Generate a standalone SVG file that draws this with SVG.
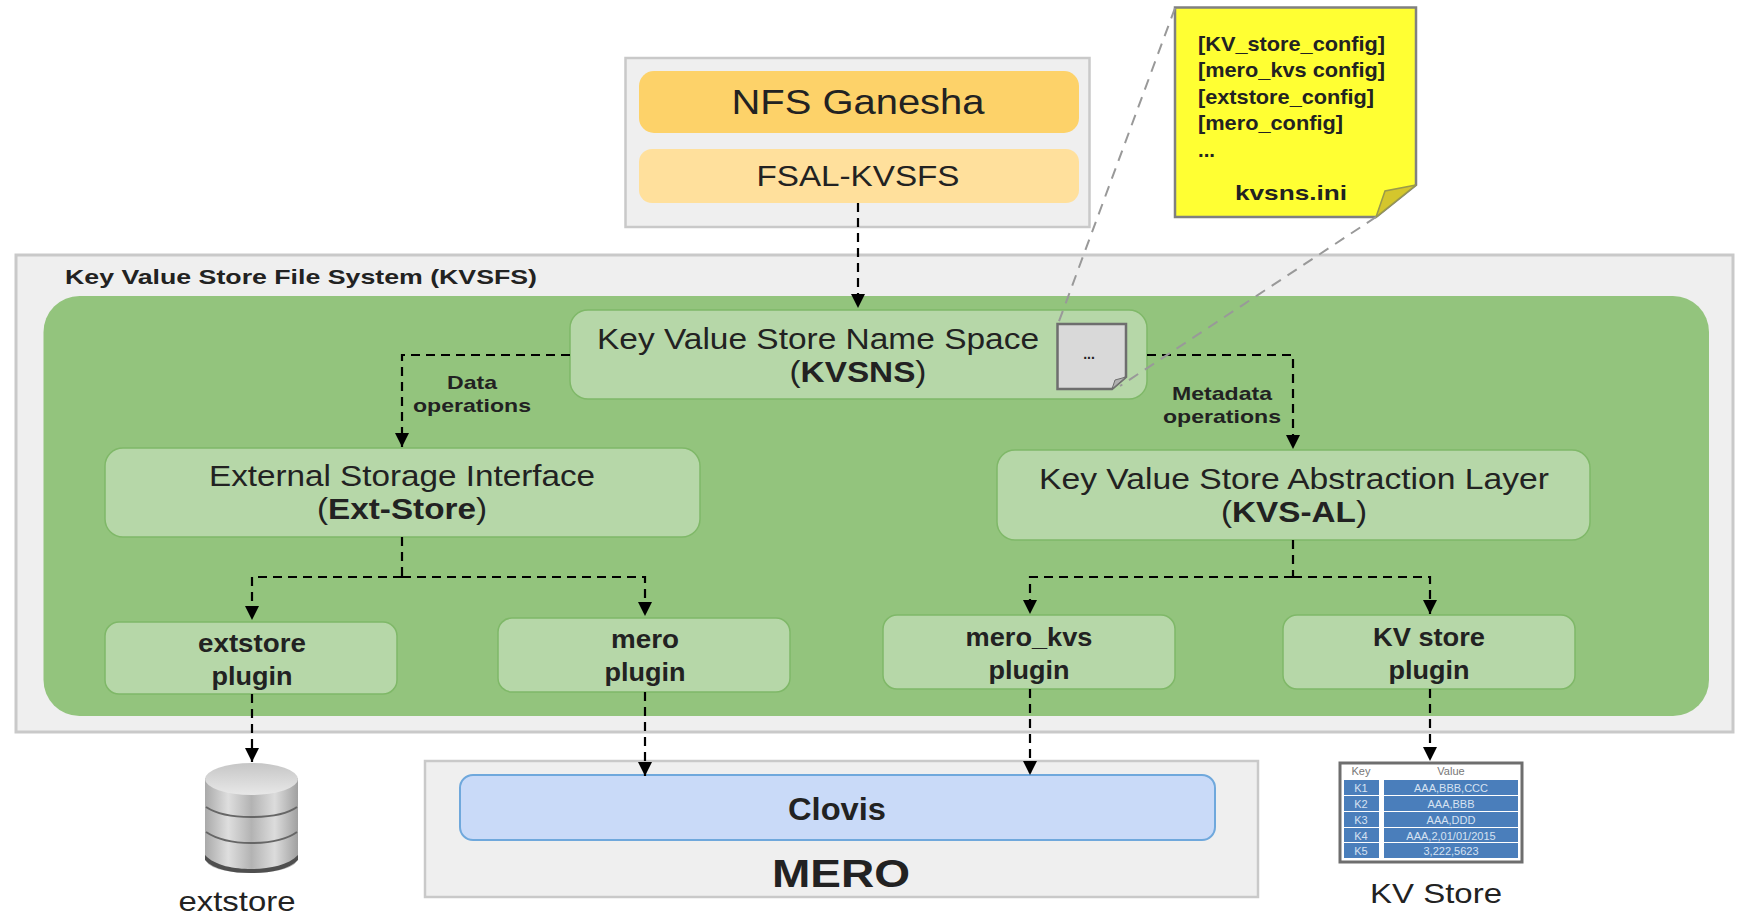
<svg xmlns="http://www.w3.org/2000/svg" width="1746" height="924" viewBox="0 0 1746 924">
<style>
text{font-family:"Liberation Sans",Arial,sans-serif;fill:#222;text-anchor:middle}
.b{font-weight:bold}
.box{fill:#b6d7a8;stroke:#7fb868;stroke-width:1.5}
.outer{fill:#efefef;stroke:#c9c9c9;stroke-width:2.500}
.m{font-size:29px}
.lab{font-size:19px;font-weight:bold}
.note{font-size:21px;font-weight:bold;text-anchor:start}
.c{fill:none;stroke:#000;stroke-width:2.2;stroke-dasharray:9 6}
.g{fill:none;stroke:#999;stroke-width:2;stroke-dasharray:11 8}
.cell{fill:#4a7ebb}
.t{font-size:11px;fill:#d6e2f2}
</style>
<defs>
<marker id="a" markerUnits="userSpaceOnUse" markerWidth="14" markerHeight="14" refX="13" refY="6.500" orient="auto" viewBox="0 0 13 13"><path d="M0 0L13 6.500L0 13Z" fill="#000"/></marker>
<linearGradient id="cy" x1="0" x2="1" y1="0" y2="0"><stop offset="0" stop-color="#a9a9a9"/><stop offset=".25" stop-color="#dedede"/><stop offset=".5" stop-color="#b3b3b3"/><stop offset=".75" stop-color="#dcdcdc"/><stop offset="1" stop-color="#a0a0a0"/></linearGradient>
<linearGradient id="ct" x1="0" x2="0" y1="0" y2="1"><stop offset="0" stop-color="#c6c6c6"/><stop offset="1" stop-color="#e8e8e8"/></linearGradient>
</defs>

<g id="ganesha-container"><rect class="outer" x="625.500" y="58" width="464" height="169"/></g>
<g id="nfs-ganesha"><rect x="639" y="71" width="440" height="62" rx="15" fill="#fdd269"/><text x="858" y="114" font-size="35" textLength="253" lengthAdjust="spacingAndGlyphs">NFS Ganesha</text></g>
<g id="fsal-kvsfs"><rect x="639" y="149" width="440" height="54" rx="13" fill="#ffe09c"/><text x="858" y="186" class="m" textLength="203" lengthAdjust="spacingAndGlyphs">FSAL-KVSFS</text></g>

<g id="kvsfs"><rect class="outer" x="16" y="255" width="1717" height="477" style="stroke-width:3"/><text x="301" y="284" font-size="21" class="b" textLength="472" lengthAdjust="spacingAndGlyphs">Key Value Store File System (KVSFS)</text></g>
<g id="kvsfs-inner"><rect x="43.500" y="296" width="1665.500" height="420" rx="36" fill="#93c47d"/></g>

<g id="kvsns"><rect class="box" x="570" y="310" width="577" height="89" rx="18"/><text x="818" y="349" class="m" textLength="442" lengthAdjust="spacingAndGlyphs">Key Value Store Name Space</text><text x="858" y="382" class="m" textLength="137" lengthAdjust="spacingAndGlyphs">(<tspan class="b">KVSNS</tspan>)</text></g>
<g id="ext-store"><rect class="box" x="105" y="448" width="595" height="89" rx="18"/><text x="402" y="486" class="m" textLength="386" lengthAdjust="spacingAndGlyphs">External Storage Interface</text><text x="402" y="519" class="m" textLength="170" lengthAdjust="spacingAndGlyphs">(<tspan class="b">Ext-Store</tspan>)</text></g>
<g id="kvs-al"><rect class="box" x="997" y="450" width="593" height="90" rx="18"/><text x="1294" y="489" class="m" textLength="510" lengthAdjust="spacingAndGlyphs">Key Value Store Abstraction Layer</text><text x="1294" y="522" class="m" textLength="146" lengthAdjust="spacingAndGlyphs">(<tspan class="b">KVS-AL</tspan>)</text></g>

<g id="extstore-plugin"><rect class="box" x="105" y="622" width="292" height="72" rx="14"/><text x="252" y="652" font-size="26" class="b" textLength="108" lengthAdjust="spacingAndGlyphs">extstore</text><text x="252" y="685" font-size="26" class="b" textLength="81" lengthAdjust="spacingAndGlyphs">plugin</text></g>
<g id="mero-plugin"><rect class="box" x="498" y="618" width="292" height="74" rx="14"/><text x="645" y="648" font-size="26" class="b" textLength="68" lengthAdjust="spacingAndGlyphs">mero</text><text x="645" y="681" font-size="26" class="b" textLength="81" lengthAdjust="spacingAndGlyphs">plugin</text></g>
<g id="mero-kvs-plugin"><rect class="box" x="883" y="615" width="292" height="74" rx="14"/><text x="1029" y="646" font-size="26" class="b" textLength="127" lengthAdjust="spacingAndGlyphs">mero_kvs</text><text x="1029" y="679" font-size="26" class="b" textLength="81" lengthAdjust="spacingAndGlyphs">plugin</text></g>
<g id="kv-store-plugin"><rect class="box" x="1283" y="615" width="292" height="74" rx="14"/><text x="1429" y="646" font-size="26" class="b" textLength="112" lengthAdjust="spacingAndGlyphs">KV store</text><text x="1429" y="679" font-size="26" class="b" textLength="81" lengthAdjust="spacingAndGlyphs">plugin</text></g>

<text x="472" y="389" class="lab" textLength="50" lengthAdjust="spacingAndGlyphs">Data</text>
<text x="472" y="412" class="lab" textLength="118" lengthAdjust="spacingAndGlyphs">operations</text>
<text x="1222" y="400" class="lab" textLength="100" lengthAdjust="spacingAndGlyphs">Metadata</text>
<text x="1222" y="423" class="lab" textLength="118" lengthAdjust="spacingAndGlyphs">operations</text>

<g id="small-doc"><path d="M1057.500 324H1126V377L1112 389H1057.500Z" fill="#d9d9d9" stroke="#6e6e6e" stroke-width="2.500"/><path d="M1112 389L1115 380L1126 377Z" fill="#b0b0b0" stroke="#6e6e6e"/><text x="1089" y="359" font-size="14" class="b">...</text></g>

<g id="note"><path d="M1175 7.500H1416V185L1376 217H1175Z" fill="#ffff33" stroke="#808080" stroke-width="2.500"/><path d="M1376 217L1385 191L1416 185Z" fill="#d4c62c" stroke="#9a9a4a" stroke-width="1.500"/>
<text class="note" x="1198" y="51" textLength="187" lengthAdjust="spacingAndGlyphs">[KV_store_config]</text>
<text class="note" x="1198" y="77" textLength="187" lengthAdjust="spacingAndGlyphs">[mero_kvs config]</text>
<text class="note" x="1198" y="104" textLength="176" lengthAdjust="spacingAndGlyphs">[extstore_config]</text>
<text class="note" x="1198" y="130" textLength="145" lengthAdjust="spacingAndGlyphs">[mero_config]</text>
<text class="note" x="1198" y="157" textLength="17" lengthAdjust="spacingAndGlyphs">...</text>
<text x="1291" y="200" font-size="21" class="b" textLength="112" lengthAdjust="spacingAndGlyphs">kvsns.ini</text></g>

<g id="extstore-db"><path d="M205 778V857C205 868 226 873 251 873S298 868 298 857V778Z" fill="url(#cy)"/><path d="M205 855C215 866 235 869 251 869S288 866 298 855V860C288 870 270 873 251 873S214 870 205 860Z" fill="#4f4f4f"/><ellipse cx="251.500" cy="779" rx="46.500" ry="16" fill="url(#ct)"/><path d="M206 807C218 815 235 817 251 817S286 815 297 807M206 832C218 840 235 843 251 843S286 840 297 832" fill="none" stroke="#666" stroke-width="2"/><text x="237" y="911" font-size="28" textLength="117" lengthAdjust="spacingAndGlyphs">extstore</text></g>

<g id="mero"><rect class="outer" x="425" y="761" width="833" height="136"/><text x="841" y="887" font-size="39" class="b" textLength="138" lengthAdjust="spacingAndGlyphs">MERO</text></g>
<g id="clovis"><rect x="460" y="775" width="755" height="65" rx="13" fill="#c9daf8" stroke="#6fa8dc" stroke-width="2"/><text x="837" y="820" font-size="31" class="b" textLength="98" lengthAdjust="spacingAndGlyphs">Clovis</text></g>

<g id="kv-table"><rect x="1340" y="763" width="182" height="99" fill="#fff" stroke="#6e6e6e" stroke-width="3"/>
<text x="1361" y="775" class="t" style="fill:#777">Key</text><text x="1451" y="775" class="t" style="fill:#777">Value</text>
<rect class="cell" x="1344" y="780" width="35" height="15"/><rect class="cell" x="1384" y="780" width="134" height="15"/>
<rect class="cell" x="1344" y="796" width="35" height="15"/><rect class="cell" x="1384" y="796" width="134" height="15"/>
<rect class="cell" x="1344" y="812" width="35" height="15"/><rect class="cell" x="1384" y="812" width="134" height="15"/>
<rect class="cell" x="1344" y="828" width="35" height="14"/><rect class="cell" x="1384" y="828" width="134" height="14"/>
<rect class="cell" x="1344" y="843" width="35" height="15"/><rect class="cell" x="1384" y="843" width="134" height="15"/>
<text x="1361" y="792" class="t">K1</text><text x="1451" y="792" class="t">AAA,BBB,CCC</text>
<text x="1361" y="808" class="t">K2</text><text x="1451" y="808" class="t">AAA,BBB</text>
<text x="1361" y="824" class="t">K3</text><text x="1451" y="824" class="t">AAA,DDD</text>
<text x="1361" y="840" class="t">K4</text><text x="1451" y="840" class="t">AAA,2,01/01/2015</text>
<text x="1361" y="855" class="t">K5</text><text x="1451" y="855" class="t">3,222,5623</text>
<text x="1436" y="903" font-size="28" textLength="132" lengthAdjust="spacingAndGlyphs">KV Store</text></g>

<g id="connectors">
<path class="c" marker-end="url(#a)" d="M858 203V308"/>
<path class="c" marker-end="url(#a)" d="M570 355H402V447"/>
<path class="c" marker-end="url(#a)" d="M1147 355H1293V449"/>
<path class="c" d="M402 537V577"/>
<path class="c" marker-end="url(#a)" d="M402 577H252V620"/>
<path class="c" marker-end="url(#a)" d="M402 577H645V616"/>
<path class="c" d="M1293 540V577"/>
<path class="c" marker-end="url(#a)" d="M1293 577H1030V614"/>
<path class="c" marker-end="url(#a)" d="M1293 577H1430V614"/>
<path class="c" marker-end="url(#a)" d="M252 694V762"/>
<path class="c" marker-end="url(#a)" d="M645 692V776"/>
<path class="c" marker-end="url(#a)" d="M1030 689V775"/>
<path class="c" marker-end="url(#a)" d="M1430 689V761"/>
<path class="g" d="M1175 8L1058 324"/>
<path class="g" d="M1376 217L1120 386"/>
</g>
</svg>
